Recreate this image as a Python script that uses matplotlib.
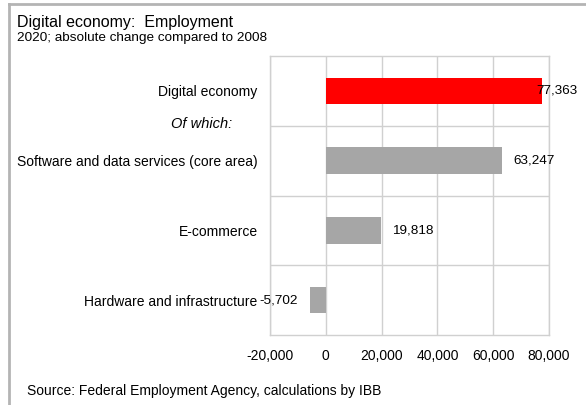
import matplotlib.pyplot as plt
from matplotlib.lines import Line2D
from matplotlib.ticker import FuncFormatter

plt.rcParams['font.family'] = ['Liberation Sans', 'DejaVu Sans']

# Employment change 2008 -> 2020
categories = ['Digital economy',
              'Software and data services (core area)',
              'E-commerce',
              'Hardware and infrastructure']
changes = [77363, 63247, 19818, -5702]
bar_colors = ['#ff0000', '#a6a6a6', '#a6a6a6', '#a6a6a6']
x_ticks = [-20000, 0, 20000, 40000, 60000, 80000]

fig = plt.figure(figsize=(5.86, 4.05), dpi=100)
ax = fig.add_axes([0.4608, 0.1728, 0.4761, 0.6889])

ypos = list(range(len(categories)))
ax.barh(ypos, changes, height=0.38, color=bar_colors, zorder=3)
ax.set_ylim(len(categories) - 0.5, -0.5)
ax.set_xlim(x_ticks[0], x_ticks[-1])

ax.set_xticks(x_ticks)
ax.xaxis.set_major_formatter(FuncFormatter(lambda v, p: f'{v:,.0f}'))
ax.set_yticks(ypos)
ax.set_yticklabels(categories)
ax.tick_params(axis='both', length=0, labelsize=10, colors='black')
ax.tick_params(axis='x', pad=10)
ax.tick_params(axis='y', pad=9)

# grid: one vertical line per tick, horizontal lines between categories
grid_col = '#d0d0d0'
for xv in x_ticks:
    ax.axvline(xv, color=grid_col, lw=1, zorder=1)
for yb in [y + 0.5 for y in ypos[:-1]]:
    ax.axhline(yb, color=grid_col, lw=1, zorder=1)
for s in ax.spines.values():
    s.set_color(grid_col)
    s.set_linewidth(1)

# value labels
for i, v in enumerate(changes):
    if i == 0:
        off, ha = -4, 'left'
    elif v < 0:
        off, ha = -9, 'right'
    else:
        off, ha = 8, 'left'
    ax.annotate(f'{v:,}', xy=(v, i), xytext=(off, 0), textcoords='offset points',
                ha=ha, va='center', fontsize=9.7, zorder=4, annotation_clip=False)

fig.text(202 / 586, 1 - 124 / 405, 'Of which:', style='italic', fontsize=10.5,
         ha='center', va='center')

fig.text(17 / 586, 1 - 27.5 / 405, 'Digital economy:  Employment', fontsize=11.5,
         ha='left', va='baseline')
fig.text(17 / 586, 1 - 41 / 405, '2020; absolute change compared to 2008', fontsize=9.7,
         ha='left', va='baseline')
fig.text(27 / 586, 1 - 395 / 405, 'Source: Federal Employment Agency, calculations by IBB',
         fontsize=10, ha='left', va='baseline')

# outer frame (left and top edges)
frame_col = '#b4b4b4'
fig.add_artist(Line2D([9 / 586, 9 / 586], [0, 1 - 4 / 405], color=frame_col, lw=2,
                      transform=fig.transFigure))
fig.add_artist(Line2D([9 / 586, 1], [1 - 4 / 405, 1 - 4 / 405], color=frame_col, lw=2,
                      transform=fig.transFigure))

fig.savefig('out.png', dpi=100)
